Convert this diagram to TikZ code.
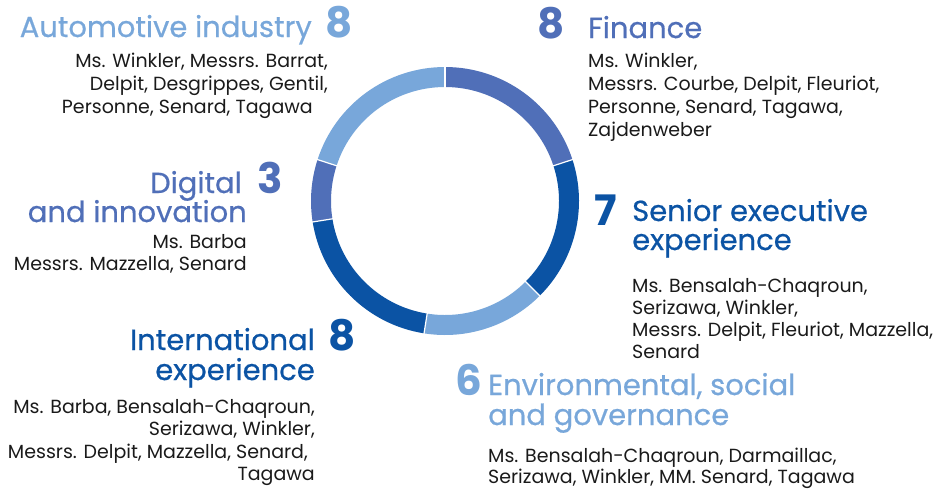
\documentclass[tikz,border=0pt]{standalone}
\usepackage{fontspec}
\setmainfont{Poppins}
\usetikzlibrary{calc}
\definecolor{cLight}{HTML}{78A7DA}
\definecolor{cMid}{HTML}{506FB8}
\definecolor{cDark}{HTML}{0B53A4}
\definecolor{cText}{HTML}{1A1A1A}
\tikzset{
  title/.style={inner sep=0pt,font=\fontsize{29}{34}\selectfont\addfontfeature{FakeBold=0.6}},
  num/.style={inner sep=0pt,font=\fontsize{42}{42}\selectfont\bfseries},
  body/.style={inner sep=0pt,text=cText,font=\fontsize{19}{23}\selectfont},
  seggap/.style={draw=white,line width=1.2pt}
}
\begin{document}
\begin{tikzpicture}[x=1pt,y=1pt]
\useasboundingbox (0,0) rectangle (941,-490);
\coordinate (c) at (445,-201);
% ring segments
\foreach \a/\b/\col in {90/18/cMid, 18/-45/cDark, -45/-99/cLight, -99/-171/cDark, -171/-198/cMid, -198/-270/cLight}{
  \fill[\col] ($(c)+(\a:134)$) arc[start angle=\a,end angle=\b,radius=134]
     -- ($(c)+(\b:114)$) arc[start angle=\b,end angle=\a,radius=114] -- cycle;
}
\foreach \a in {90,18,-45,-99,-171,-198}{
  \draw[seggap] ($(c)+(\a:112)$) -- ($(c)+(\a:136)$);
}
% Automotive industry
\node[title,text=cLight,anchor=base east] (autT) at (312,-37) {Automotive industry};
\node[num,text=cLight,anchor=base west] (autN) at (325,-37) {8};
\node[body,anchor=base east] (aut1) at (328,-67) {Ms. Winkler, Messrs. Barrat,};
\node[body,anchor=base east] (aut2) at (328,-90) {Delpit, Desgrippes, Gentil,};
\node[body,anchor=base east] (aut3) at (313,-113) {Personne, Senard, Tagawa};
% Finance
\node[num,text=cMid,anchor=base west] (finN) at (537,-38) {8};
\node[title,text=cMid,anchor=base west] (finT) at (588,-38) {Finance};
\node[body,anchor=base west] (fin1) at (588,-67) {Ms. Winkler,};
\node[body,anchor=base west] (fin2) at (588,-90) {Messrs. Courbe, Delpit, Fleuriot,};
\node[body,anchor=base west] (fin3) at (588,-113) {Personne, Senard, Tagawa,};
\node[body,anchor=base west] (fin4) at (588,-136) {Zajdenweber};
% Senior executive experience
\node[num,text=cDark,anchor=base west] (senN) at (594,-225) {7};
\node[title,text=cDark,anchor=base west] (senT1) at (632,-221) {Senior executive};
\node[title,text=cDark,anchor=base west] (senT2) at (632,-250) {experience};
\node[body,anchor=base west] (sen1) at (632,-292) {Ms. Bensalah-Chaqroun,};
\node[body,anchor=base west] (sen2) at (632,-314) {Serizawa, Winkler,};
\node[body,anchor=base west] (sen3) at (632,-336) {Messrs. Delpit, Fleuriot, Mazzella,};
\node[body,anchor=base west] (sen4) at (632,-358) {Senard};
% ESG
\node[num,text=cLight,anchor=base west] (esgN) at (455,-395) {6};
\node[title,text=cLight,anchor=base west] (esgT1) at (488,-395) {Environmental, social};
\node[title,text=cLight,anchor=base west] (esgT2) at (488,-425) {and governance};
\node[body,anchor=base west] (esg1) at (488,-462) {Ms. Bensalah-Chaqroun, Darmaillac,};
\node[body,anchor=base west] (esg2) at (488,-483) {Serizawa, Winkler, MM. Senard, Tagawa};
% International experience
\node[title,text=cDark,anchor=base east] (intT1) at (315,-350) {International};
\node[title,text=cDark,anchor=base east] (intT2) at (315,-380) {experience};
\node[num,text=cDark,anchor=base west] (intN) at (328,-350) {8};
\node[body,anchor=base east] (int1) at (315,-413) {Ms. Barba, Bensalah-Chaqroun,};
\node[body,anchor=base east] (int2) at (315,-435) {Serizawa, Winkler,};
\node[body,anchor=base east] (int3) at (308,-458) {Messrs. Delpit, Mazzella, Senard,};
\node[body,anchor=base east] (int4) at (315,-480) {Tagawa};
% Digital and innovation
\node[title,text=cMid,anchor=base east] (digT1) at (242,-193) {Digital};
\node[title,text=cMid,anchor=base east] (digT2) at (247,-222) {and innovation};
\node[num,text=cMid,anchor=base west] (digN) at (257,-193) {3};
\node[body,anchor=base east] (dig1) at (247,-248) {Ms. Barba};
\node[body,anchor=base east] (dig2) at (247,-270) {Messrs. Mazzella, Senard};
\end{tikzpicture}
\end{document}
